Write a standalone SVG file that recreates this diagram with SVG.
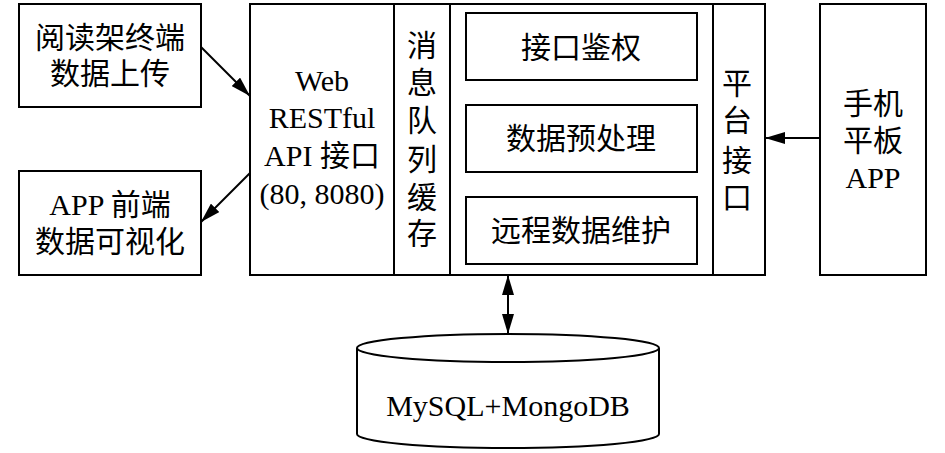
<svg xmlns="http://www.w3.org/2000/svg" width="945" height="453" viewBox="0 0 945 453">
<style>
.b{fill:#fff;stroke:#000;stroke-width:2}
.l{fill:none;stroke:#000;stroke-width:2}
text{font-family:"Liberation Serif","Noto Sans CJK SC",serif;font-size:30px;fill:#000;text-anchor:middle}
</style>
<defs>
<marker id="ah" viewBox="0 0 20 12" refX="20" refY="6" markerWidth="20" markerHeight="12" markerUnits="userSpaceOnUse" orient="auto-start-reverse">
<path d="M0,0 L20,6 L0,12 Z" fill="#000"/>
</marker>
</defs>
<rect width="945" height="453" fill="#fff"/>
<g id="n_upload">
<rect class="b" x="19" y="4" width="182" height="103"/>
<text x="110" y="48">阅读架终端</text>
<text x="110" y="84">数据上传</text>
</g>
<g id="n_visual">
<rect class="b" x="19" y="171" width="182" height="104"/>
<text x="110" y="215">APP 前端</text>
<text x="110" y="252">数据可视化</text>
</g>
<g id="n_main">
<rect class="b" x="250" y="4" width="515" height="271"/>
<line class="l" x1="394" y1="4" x2="394" y2="275"/>
<line class="l" x1="450" y1="4" x2="450" y2="275"/>
<line class="l" x1="713" y1="4" x2="713" y2="275"/>
</g>
<g id="n_api">
<text x="322" y="91">Web</text>
<text x="322" y="128">RESTful</text>
<text x="322" y="166">API 接口</text>
<text x="322" y="204">(80, 8080)</text>
</g>
<g id="n_mq">
<text x="422" y="56">消</text>
<text x="422" y="93">息</text>
<text x="422" y="131">队</text>
<text x="422" y="170">列</text>
<text x="422" y="208">缓</text>
<text x="422" y="244">存</text>
</g>
<g id="n_auth">
<rect class="b" x="466" y="13" width="231" height="67"/>
<text x="581" y="58">接口鉴权</text>
</g>
<g id="n_pre">
<rect class="b" x="466" y="105" width="231" height="67"/>
<text x="581" y="149">数据预处理</text>
</g>
<g id="n_remote">
<rect class="b" x="466" y="197" width="231" height="67"/>
<text x="581" y="241">远程数据维护</text>
</g>
<g id="n_platform">
<text x="737" y="94">平</text>
<text x="737" y="131">台</text>
<text x="737" y="171">接</text>
<text x="737" y="208">口</text>
</g>
<g id="n_mobile">
<rect class="b" x="820" y="4" width="106" height="271"/>
<text x="873" y="114">手机</text>
<text x="873" y="151">平板</text>
<text x="873" y="188">APP</text>
</g>
<g id="n_db">
<path class="b" d="M357,348 L357,434 A151,14 0 0 0 659,434 L659,348"/>
<ellipse class="b" cx="508" cy="348" rx="151" ry="14"/>
<text x="508" y="416">MySQL+MongoDB</text>
</g>
<g id="connectors">
<line class="l" x1="201" y1="47" x2="250" y2="96" marker-end="url(#ah)"/>
<line class="l" x1="250" y1="173" x2="201" y2="222" marker-end="url(#ah)"/>
<line class="l" x1="820" y1="138" x2="765" y2="138" marker-end="url(#ah)"/>
<line class="l" x1="508" y1="275" x2="508" y2="334" marker-start="url(#ah)" marker-end="url(#ah)"/>
</g>
</svg>
